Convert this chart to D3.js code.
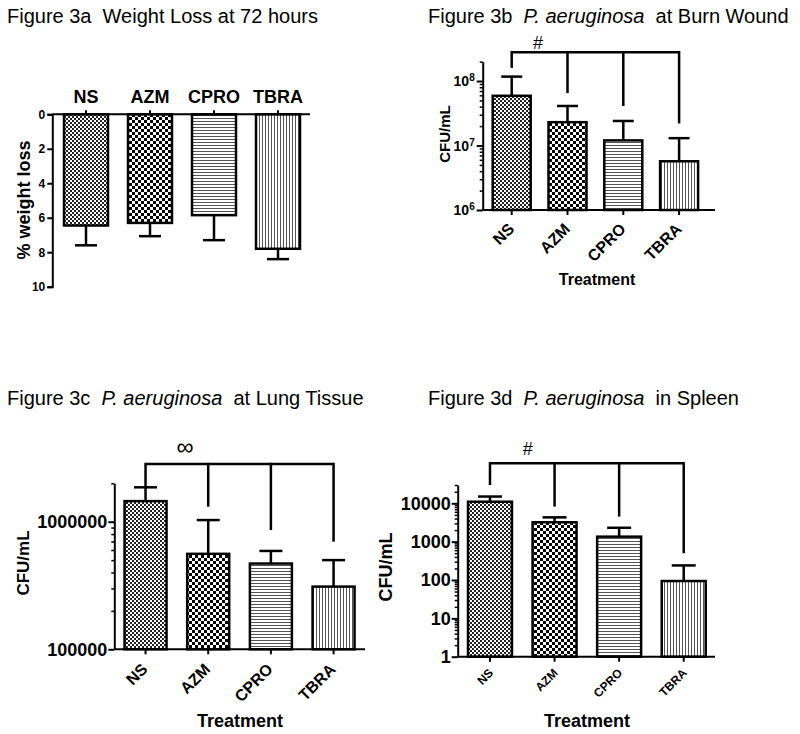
<!DOCTYPE html>
<html><head><meta charset="utf-8">
<script src="https://cdn.jsdelivr.net/npm/d3@7"></script>
<style>
body{margin:0;background:#fff}
svg{display:block}
text{font-family:Arial,"Liberation Sans",Helvetica,sans-serif;fill:#000}
</style>
</head><body>
<svg id="chart" width="800" height="734"></svg>
<script>
// ---------- DATA ----------
const categories = ["NS", "AZM", "CPRO", "TBRA"];

// Figure 3a: % weight loss (mean, SD)
const weightLossMean = [6.45, 6.3, 5.85, 7.8];
const weightLossSD   = [1.15, 0.77, 1.45, 0.6];
const weightTicks    = [0, 2, 4, 6, 8, 10];

// Figure 3b: burn wound CFU/mL (mean, upper error end)
const burnMean   = [5.9e7, 2.3e7, 1.2e7, 5.7e6];
const burnUpper  = [1.17e8, 4.1e7, 2.4e7, 1.3e7];
const burnTicks  = [1e6, 1e7, 1e8];
const burnBracketTop  = 2.8e8;
const burnBracketEnds = [1.6e8, 6.5e7, 4.1e7, 2.2e7];
const burnSig = "#";

// Figure 3c: lung tissue CFU/mL
const lungMean   = [1.45e6, 5.6e5, 4.7e5, 3.1e5];
const lungUpper  = [1.86e6, 1.03e6, 5.9e5, 5.0e5];
const lungTicks  = [1e5, 1e6];
const lungBracketTop  = 2.83e6;
const lungBracketEnds = [1.87e6, 1.31e6, 8.6e5, 6.97e5];
const lungSig = "\u221E";

// Figure 3d: spleen CFU/mL
const spleenMean  = [1.1e4, 3.2e3, 1.35e3, 94];
const spleenUpper = [1.5e4, 4.3e3, 2.3e3, 240];
const spleenTicks = [1, 10, 100, 1000, 10000];
const spleenBracketTop  = 1.1e5;
const spleenBracketEnds = [3.0e4, 8.2e3, 4.5e3, 500];
const spleenSig = "#";

const titles = [
  ["Figure 3a  Weight Loss at 72 hours"],
  ["Figure 3b  ", "P. aeruginosa", "  at Burn Wound"],
  ["Figure 3c  ", "P. aeruginosa", "  at Lung Tissue"],
  ["Figure 3d  ", "P. aeruginosa", "  in Spleen"]
];

// ---------- DRAW ----------
const svg = d3.select("#chart");
const defs = svg.append("defs");
const patIds = ["pNS", "pAZM", "pCPRO", "pTBRA"];
function checker(id, s, col) {
  const p = defs.append("pattern").attr("id", id).attr("patternUnits", "userSpaceOnUse")
    .attr("width", 2 * s).attr("height", 2 * s);
  p.append("rect").attr("width", 2 * s).attr("height", 2 * s).attr("fill", "#fff");
  p.append("rect").attr("width", s).attr("height", s).attr("fill", col);
  p.append("rect").attr("x", s).attr("y", s).attr("width", s).attr("height", s).attr("fill", col);
}
checker("pNS", 2, "#222");
checker("pAZM", 3, "#000");
{
  const p = defs.append("pattern").attr("id", "pCPRO").attr("patternUnits", "userSpaceOnUse")
    .attr("width", 6).attr("height", 3);
  p.append("rect").attr("width", 6).attr("height", 3).attr("fill", "#fff");
  p.append("rect").attr("y", 1).attr("width", 6).attr("height", 1).attr("fill", "#555");
  const q = defs.append("pattern").attr("id", "pTBRA").attr("patternUnits", "userSpaceOnUse")
    .attr("width", 3).attr("height", 6);
  q.append("rect").attr("width", 3).attr("height", 6).attr("fill", "#fff");
  q.append("rect").attr("x", 1).attr("width", 1).attr("height", 6).attr("fill", "#555");
}

const SW = 2.5;

function title(parts, x, y) {
  const t = svg.append("text").attr("x", x).attr("y", y).attr("font-size", 20)
    .style("white-space", "pre");
  parts.forEach((p, i) => t.append("tspan").text(p)
    .attr("font-style", parts.length === 3 && i === 1 ? "italic" : "normal"));
}
function ylabel(text, x, y, size) {
  svg.append("text").attr("transform", `translate(${x},${y}) rotate(-90)`)
    .attr("text-anchor", "middle").attr("font-weight", "bold").attr("font-size", size).text(text);
}
function xlabel(text, x, y, size) {
  svg.append("text").attr("x", x).attr("y", y).attr("text-anchor", "middle")
    .attr("font-weight", "bold").attr("font-size", size).text(text);
}

titles.forEach((t, i) => title(t, i % 2 ? 428 : 7, i < 2 ? 22.5 : 405));

// ---- Panel a ----
(function () {
  const x = d3.scaleBand().domain(categories).range([54, 310]).paddingInner(0.3125).paddingOuter(0.15625);
  const y = d3.scaleLinear().domain([0, 10]).range([114.3, 286.7]);
  const g = svg.append("g");
  const bw = x.bandwidth();
  categories.forEach((c, i) => {
    const cx = x(c) + bw / 2;
    const v = weightLossMean[i], e = v + weightLossSD[i];
    g.append("line").attr("x1", cx).attr("x2", cx).attr("y1", y(v)).attr("y2", y(e))
      .attr("stroke", "#000").attr("stroke-width", SW);
    g.append("line").attr("x1", cx - 11).attr("x2", cx + 11).attr("y1", y(e)).attr("y2", y(e))
      .attr("stroke", "#000").attr("stroke-width", SW);
    g.append("rect").attr("x", x(c)).attr("y", y(0)).attr("width", bw).attr("height", y(v) - y(0))
      .attr("fill", `url(#${patIds[i]})`).attr("stroke", "#000").attr("stroke-width", SW);
  });
  // y axis
  const ya = g.append("g").attr("transform", "translate(52.3,0)")
    .call(d3.axisLeft(y).tickValues(weightTicks).tickSize(5).tickPadding(2));
  ya.select(".domain").attr("stroke-width", 2);
  ya.selectAll(".tick line").attr("stroke-width", 2);
  ya.selectAll("text").attr("font-size", 12).attr("font-weight", "bold").attr("font-family", null);
  // top x axis
  const xa = g.append("g").attr("transform", "translate(0,114.3)")
    .call(d3.axisTop(x).tickSize(4).tickSizeOuter(0).tickPadding(7));
  xa.select(".domain").attr("stroke-width", 2).attr("d", "M52.3,0H310");
  xa.selectAll(".tick line").attr("stroke-width", 2);
  xa.selectAll("text").attr("font-size", 18).attr("font-weight", "bold").attr("font-family", null);
  ylabel("% weight loss", 30, 200, 18);
})();

// ---- log panels ----
function logPanel(o) {
  const x = d3.scaleBand().domain(categories).range(o.xr)
    .paddingInner(o.pi).paddingOuter(o.pi / 2);
  const y = d3.scaleLog().domain(o.dom).range([o.y0, o.y1]);
  const g = svg.append("g");
  const bw = x.bandwidth();
  const cx = c => x(c) + bw / 2;
  // bracket
  const yb = y(o.bTop);
  g.append("line").attr("x1", cx(categories[0])).attr("x2", cx(categories[3]))
    .attr("y1", yb).attr("y2", yb).attr("stroke", "#000").attr("stroke-width", SW);
  categories.forEach((c, i) => {
    g.append("line").attr("x1", cx(c)).attr("x2", cx(c)).attr("y1", yb - SW / 2).attr("y2", y(o.bEnds[i]))
      .attr("stroke", "#000").attr("stroke-width", SW);
  });
  g.append("text").attr("x", o.sigX).attr("y", o.sigY).attr("text-anchor", "middle")
    .attr("font-size", o.sigSize).text(o.sig);
  // bars + errors
  categories.forEach((c, i) => {
    const v = o.mean[i], e = o.upper[i];
    g.append("line").attr("x1", cx(c)).attr("x2", cx(c)).attr("y1", y(v)).attr("y2", y(e))
      .attr("stroke", "#000").attr("stroke-width", SW);
    g.append("line").attr("x1", cx(c) - bw / 4 - 1).attr("x2", cx(c) + bw / 4 + 1).attr("y1", y(e)).attr("y2", y(e))
      .attr("stroke", "#000").attr("stroke-width", SW);
    g.append("rect").attr("x", x(c)).attr("y", y(v)).attr("width", bw).attr("height", o.y0 - y(v))
      .attr("fill", `url(#${patIds[i]})`).attr("stroke", "#000").attr("stroke-width", SW);
  });
  // minor ticks
  const minors = [];
  const lo = Math.log10(o.dom[0]), hi = Math.log10(o.dom[1]);
  for (let d = Math.floor(lo); d <= Math.ceil(hi); d++) {
    for (let k = 2; k <= 9; k++) {
      const v = k * Math.pow(10, d);
      if (v > o.dom[0] && v <= o.dom[1] * 1.0001) minors.push(v);
    }
  }
  const ym = g.append("g").attr("transform", `translate(${o.ax},0)`)
    .call(d3.axisLeft(y).tickValues(minors).tickSize(3).tickFormat(""));
  ym.select(".domain").remove();
  ym.selectAll(".tick line").attr("stroke-width", 1.5);
  // y axis major
  const ya = g.append("g").attr("transform", `translate(${o.ax},0)`)
    .call(d3.axisLeft(y).tickValues(o.ticks).tickSize(6).tickSizeOuter(0).tickPadding(o.tickPad)
      .tickFormat(o.sup ? () => "" : d3.format("d")));
  ya.select(".domain").attr("stroke-width", 2);
  ya.selectAll(".tick line").attr("stroke-width", 2);
  ya.selectAll("text").attr("font-size", o.tickSize).attr("font-weight", "bold").attr("font-family", null);
  if (o.sup) {
    ya.selectAll(".tick text").each(function (d) {
      const t = d3.select(this).attr("dy", "0.35em");
      t.append("tspan").text("10");
      t.append("tspan").attr("dy", "-0.5em").attr("font-size", 10).text(Math.round(Math.log10(d)));
    });
  }
  // x axis
  const xa = g.append("g").attr("transform", `translate(0,${o.y0})`)
    .call(d3.axisBottom(x).tickSize(5).tickSizeOuter(0));
  xa.select(".domain").attr("stroke-width", 2).attr("d", `M${o.ax},0H${o.xEnd}`);
  xa.selectAll(".tick line").attr("stroke-width", 2);
  xa.selectAll(".tick text").attr("font-size", o.xtSize).attr("font-weight", "bold").attr("font-family", null)
    .attr("text-anchor", "end").attr("dy", null).attr("y", null)
    .attr("transform", `translate(${o.xtDx},${o.xtDy}) rotate(-45)`);
  ylabel("CFU/mL", o.ylX, o.ylY, o.ylSize);
  xlabel("Treatment", o.tX, o.tY, o.tSize);
}

logPanel({ xr: [483.8, 707], pi: 0.319, dom: [1e6, 2e8], y0: 210, y1: 61.6, ax: 482.7, xEnd: 715,
  mean: burnMean, upper: burnUpper, ticks: burnTicks, sup: true, tickSize: 14, tickPad: 2,
  bTop: burnBracketTop, bEnds: burnBracketEnds, sig: burnSig, sigX: 538, sigY: 49, sigSize: 18,
  xtSize: 16, xtDx: 3.5, xtDy: 20, ylX: 450, ylY: 134, ylSize: 15, tX: 597, tY: 285, tSize: 16 });

logPanel({ xr: [114.2, 364.9], pi: 0.33, dom: [1e5, 2e6], y0: 649.3, y1: 483.3, ax: 114.3, xEnd: 365,
  mean: lungMean, upper: lungUpper, ticks: lungTicks, sup: false, tickSize: 18, tickPad: 1,
  bTop: lungBracketTop, bEnds: lungBracketEnds, sig: lungSig, sigX: 185, sigY: 455, sigSize: 24,
  xtSize: 16, xtDx: 3, xtDy: 21, ylX: 28.5, ylY: 563, ylSize: 17, tX: 240, tY: 727, tSize: 18 });

logPanel({ xr: [457.7, 716], pi: 0.319, dom: [1, 3e4], y0: 656.7, y1: 485, ax: 457.7, xEnd: 715,
  mean: spleenMean, upper: spleenUpper, ticks: spleenTicks, sup: false, tickSize: 18, tickPad: 1,
  bTop: spleenBracketTop, bEnds: spleenBracketEnds, sig: spleenSig, sigX: 527.7, sigY: 455, sigSize: 18,
  xtSize: 12, xtDx: 4, xtDy: 17, ylX: 391.5, ylY: 567, ylSize: 18, tX: 587, tY: 727, tSize: 18 });
</script>
</body></html>
